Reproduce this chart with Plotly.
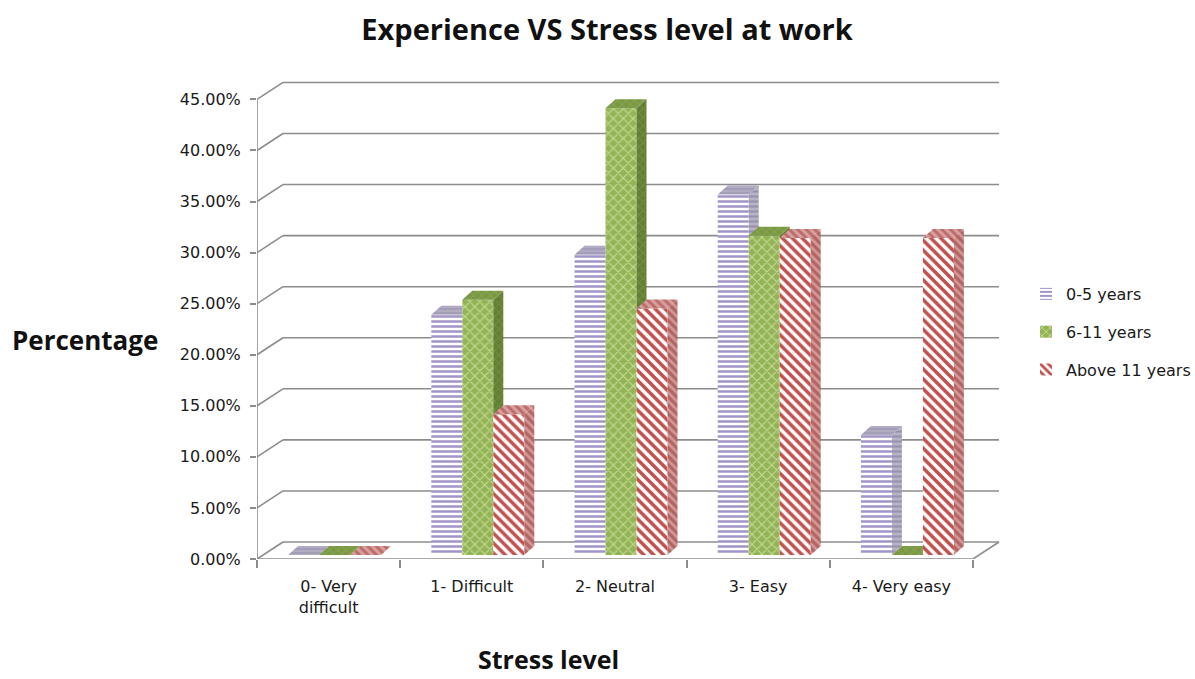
import plotly.graph_objects as go

# ---------------- data ----------------
categories = ["0- Very<br>difficult", "1- Difficult", "2- Neutral", "3- Easy", "4- Very easy"]
series_names = ["0-5 years", "6-11 years", "Above 11 years"]
years_0_5 = [0.0, 0.2353, 0.2941, 0.3529, 0.1176]
years_6_11 = [0.0, 0.25, 0.4375, 0.3125, 0.0]
years_above_11 = [0.0, 0.1379, 0.2414, 0.3103, 0.3103]
y_ticks = [0.0, 0.05, 0.10, 0.15, 0.20, 0.25, 0.30, 0.35, 0.40, 0.45]

# ---------------- layout geometry (styles) ----------------
W, H = 1195, 679
ML, MR, MT, MB = 257, 194, 79, 120
PW, PH = W - ML - MR, H - MT - MB
X_EXTRA_PX = 28
n_cat = len(categories)
x_min = -0.5
x_front_max = n_cat - 0.5
px_per_x = (PW - X_EXTRA_PX) / (x_front_max - x_min)
x_max = x_front_max + X_EXTRA_PX / px_per_x
y_max = 0.47
px_per_y = PH / y_max

def dxu(px):
    return px / px_per_x

def dyu(px):
    return px / px_per_y

BACK_X, BACK_Y = dxu(26), dyu(17)       # depth of the back wall
BASE = dyu(4)                           # bars sit a little inside the floor
SHIFT = dxu(6)
TOP_DX, TOP_DY = dxu(10), dyu(9)        # bar depth
BW = dxu(31)                            # bar width
START = -1.5 * BW + SHIFT

styles = [
    dict(front=dict(shape="-", fgcolor="#A294C6", bgcolor="#FFFFFF", size=5, solidity=0.5),
         top=dict(fill="#A39BB6", pat=dict(shape="-", fgcolor="#8F86A6", bgcolor="#B2ABC2", size=4, solidity=0.4)),
         side=dict(fill="#9890A8", pat=dict(shape="-", fgcolor="#7A7192", bgcolor="#B8B2C8", size=5, solidity=0.45))),
    dict(front=dict(shape="x", fgcolor="#C6DA98", bgcolor="#93B455", size=7, solidity=0.3),
         top=dict(fill="#7E9C47", pat=dict(shape="x", fgcolor="#94B05C", bgcolor="#7A9844", size=6, solidity=0.3)),
         side=dict(fill="#6B8838", pat=dict(shape="x", fgcolor="#80A049", bgcolor="#627F33", size=6, solidity=0.3))),
    dict(front=dict(shape="\\", fgcolor="#C0504D", bgcolor="#FFFFFF", size=7, solidity=0.5),
         top=dict(fill="#B96A68", pat=dict(shape="\\", fgcolor="#A03A38", bgcolor="#D8A09E", size=6, solidity=0.5)),
         side=dict(fill="#B06260", pat=dict(shape="\\", fgcolor="#8E3432", bgcolor="#D49896", size=6, solidity=0.55))),
]

all_values = [years_0_5, years_6_11, years_above_11]


def clip_half(poly, keep, cross):
    out = []
    n = len(poly)
    for j in range(n):
        p, q = poly[j], poly[(j + 1) % n]
        pin, qin = keep(p), keep(q)
        if pin:
            out.append(p)
        if pin != qin:
            out.append(cross(p, q))
    return out


def clip_y_min(poly, h):
    def cross(p, q):
        t = (h - p[1]) / (q[1] - p[1])
        return (p[0] + t * (q[0] - p[0]), h)
    return clip_half(poly, lambda p: p[1] >= h, cross)


def clip_x_max(poly, xr):
    def cross(p, q):
        t = (xr - p[0]) / (q[0] - p[0])
        return (xr, p[1] + t * (q[1] - p[1]))
    return clip_half(poly, lambda p: p[0] <= xr + 1e-12, cross)


def polys_to_xy(polys):
    xs, ys = [], []
    for poly in polys:
        if len(poly) < 3:
            continue
        for (a, b) in poly:
            xs.append(a)
            ys.append(b)
        xs.append(poly[0][0])
        ys.append(poly[0][1])
        xs.append(None)
        ys.append(None)
    return xs, ys


fig = go.Figure()

# front faces (bars)
for k, (name, vals) in enumerate(zip(series_names, all_values)):
    st = styles[k]["front"]
    fig.add_trace(go.Bar(
        x=list(range(n_cat)), y=vals, base=BASE, width=BW, offset=START + k * BW,
        name=name, legendgroup=name,
        marker=dict(color=st["bgcolor"], line=dict(width=0),
                    pattern=dict(shape=st["shape"], fgcolor=st["fgcolor"], bgcolor=st["bgcolor"],
                                 size=st["size"], solidity=st["solidity"], fillmode="replace",
                                 fgopacity=1)),
        hovertemplate="%{y:.2%}<extra>" + name + "</extra>",
    ))

# top and side faces
for k, vals in enumerate(all_values):
    tops, sides = [], []
    for i, v in enumerate(vals):
        xl = i + START + k * BW
        xr = xl + BW
        top = BASE + v
        top_poly = [(xl, top), (xl + TOP_DX, top + TOP_DY), (xr + TOP_DX, top + TOP_DY), (xr, top)]
        side_poly = [(xr, BASE), (xr + TOP_DX, BASE + TOP_DY), (xr + TOP_DX, top + TOP_DY), (xr, top)]
        if k < len(all_values) - 1:
            vn = all_values[k + 1][i]
            if vn > 0:
                side_poly = clip_y_min(side_poly, BASE + vn)
                if BASE + vn > top:
                    top_poly = clip_x_max(top_poly, xr)
        tops.append(top_poly)
        sides.append(side_poly)
    for polys, key in ((tops, "top"), (sides, "side")):
        st = styles[k][key]
        xs, ys = polys_to_xy(polys)
        fig.add_trace(go.Scatter(
            x=xs, y=ys, mode="lines", fill="toself", line=dict(width=0),
            fillcolor=st["fill"],
            fillpattern=dict(shape=st["pat"]["shape"], fgcolor=st["pat"]["fgcolor"],
                             bgcolor=st["pat"]["bgcolor"], size=st["pat"]["size"],
                             solidity=st["pat"]["solidity"]),
            showlegend=False, hoverinfo="skip",
        ))

# walls, floor and gridlines
GRID = dict(color="#8C8C8C", width=1.6)
shapes = []
for t in y_ticks:
    shapes.append(dict(type="line", xref="x", yref="y", x0=x_min, y0=t, x1=x_min + BACK_X, y1=t + BACK_Y,
                       line=GRID, layer="below"))
    shapes.append(dict(type="line", xref="x", yref="y", x0=x_min + BACK_X, y0=t + BACK_Y,
                       x1=x_front_max + BACK_X, y1=t + BACK_Y, line=GRID, layer="below"))
shapes.append(dict(type="line", xref="x", yref="y", x0=x_min, y0=0, x1=x_min, y1=y_ticks[-1],
                   line=GRID, layer="below"))
shapes.append(dict(type="line", xref="x", yref="y", x0=x_min, y0=0, x1=x_front_max, y1=0,
                   line=GRID, layer="below"))
shapes.append(dict(type="line", xref="x", yref="y", x0=x_front_max, y0=0, x1=x_front_max + BACK_X,
                   y1=BACK_Y, line=GRID, layer="below"))

TXT = "#1A1A1A"
fig.update_layout(
    width=W, height=H,
    margin=dict(l=ML, r=MR, t=MT, b=MB, autoexpand=False),
    paper_bgcolor="white", plot_bgcolor="white",
    barmode="overlay",
    shapes=shapes,
    font=dict(family="DejaVu Sans", size=16, color=TXT),
    title=dict(text="<b>Experience VS Stress level at work</b>", x=607 / W, xref="container", xanchor="center",
               y=1 - 30 / H, yref="container", yanchor="middle",
               font=dict(family="Open Sans", size=29, color="#111111")),
    xaxis=dict(range=[x_min, x_max], tickvals=list(range(n_cat)), ticktext=categories,
               showgrid=False, zeroline=False, showline=False, ticks="",
               ticklabelstandoff=16,
               tickfont=dict(family="DejaVu Sans", size=16, color=TXT),
               minor=dict(tickvals=[i - 0.5 for i in range(n_cat + 1)], ticks="outside", ticklen=8,
                          tickcolor="#8C8C8C", tickwidth=1.6, showgrid=False)),
    yaxis=dict(range=[0, y_max], tickvals=y_ticks, tickformat=".2%", showgrid=False, zeroline=False,
               showline=False, ticks="outside", ticklen=6, tickcolor="#8C8C8C", tickwidth=1.6,
               ticklabelstandoff=6,
               tickfont=dict(family="DejaVu Sans", size=16, color=TXT)),
    legend=dict(x=(1026 - ML) / PW, xanchor="left", y=(559 - 277) / PH, yanchor="top",
                font=dict(family="DejaVu Sans", size=16, color=TXT), tracegroupgap=14,
                itemwidth=30, bgcolor="rgba(0,0,0,0)"),
    annotations=[
        dict(text="<b>Percentage</b>", xref="paper", yref="paper", x=(10 - ML) / PW, y=(559 - 340) / PH,
             xanchor="left", yanchor="middle", showarrow=False,
             font=dict(family="Open Sans", size=26, color="#111111")),
        dict(text="<b>Stress level</b>", xref="paper", yref="paper", x=(548 - ML) / PW, y=(559 - 659) / PH,
             xanchor="center", yanchor="middle", showarrow=False,
             font=dict(family="Open Sans", size=25, color="#111111")),
    ],
)

fig.write_html("out.html", config={"displayModeBar": False},
               post_script="document.body.style.margin='0';document.body.style.overflow='hidden';")
